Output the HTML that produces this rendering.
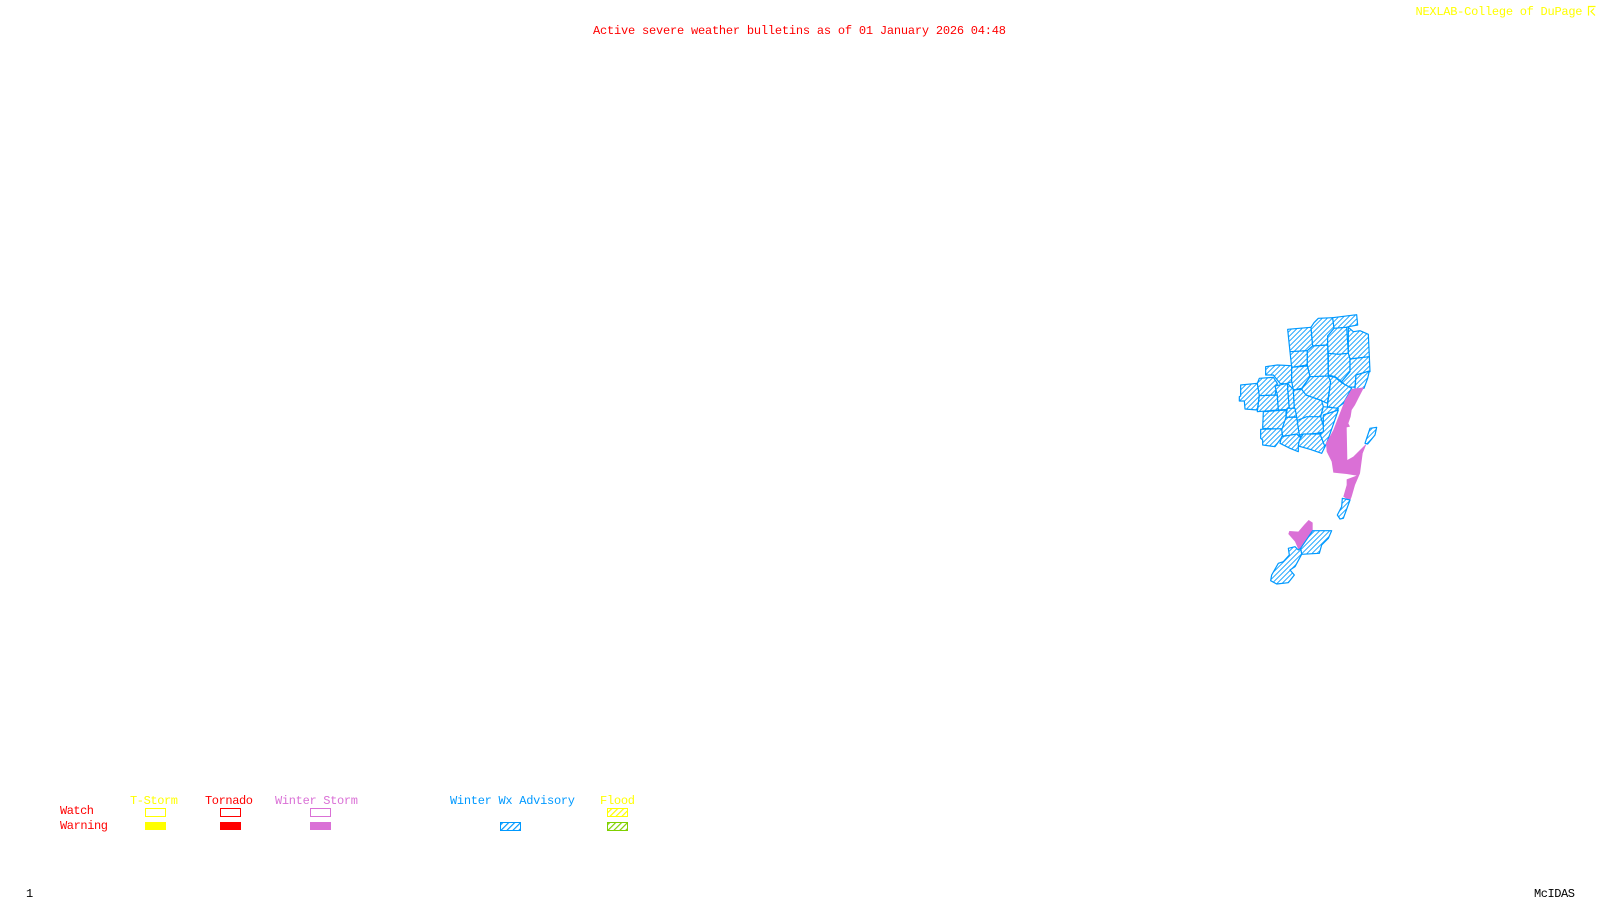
<!DOCTYPE html>
<html lang="en">
<head>
<meta charset="utf-8">
<title>Active severe weather bulletins</title>
<style>
html,body{margin:0;padding:0;background:#fff;width:1600px;height:900px;overflow:hidden}
svg{display:block}
text{font-family:"Liberation Mono",monospace;font-size:12px}
</style>
</head>
<body>
<svg width="1600" height="900" viewBox="0 0 1600 900" xmlns="http://www.w3.org/2000/svg">
<defs>
<pattern id="hz" patternUnits="userSpaceOnUse" width="10.6" height="10.6" patternTransform="rotate(45)">
<rect width="10.6" height="10.6" fill="#fff"/>
<rect x="0" y="0" width="2.6" height="10.6" fill="#0099ff"/>
</pattern>
<pattern id="hb" patternUnits="userSpaceOnUse" width="4.2" height="4.2" patternTransform="rotate(45)">
<rect width="4.2" height="4.2" fill="#fff"/><rect width="1.2" height="4.2" fill="#0099ff"/>
</pattern>
<pattern id="hy" patternUnits="userSpaceOnUse" width="4.2" height="4.2" patternTransform="rotate(45)">
<rect width="4.2" height="4.2" fill="#fff"/><rect width="1.2" height="4.2" fill="#ffff00"/>
</pattern>
<pattern id="hg" patternUnits="userSpaceOnUse" width="4.2" height="4.2" patternTransform="rotate(45)">
<rect width="4.2" height="4.2" fill="#fff"/><rect width="1.2" height="4.2" fill="#7fd000"/>
</pattern>
</defs>

<text x="593" y="34" fill="#ff0000" textLength="413" lengthAdjust="spacing">Active severe weather bulletins as of 01 January 2026 04:48</text>
<text x="1415.5" y="15" fill="#ffff00" textLength="167" lengthAdjust="spacing">NEXLAB-College of DuPage</text>
<path d="M1595.5 6.5H1588.5V15.5M1594 8.5L1591 11.5L1595 15.5" fill="none" stroke="#ffff00" stroke-width="1.2"/>

<g transform="translate(1200,300) scale(0.33333)">
<g fill="url(#hz)" stroke="#0099ff" stroke-width="3.6" stroke-linejoin="round">
<polygon points="263,88 333,82 338,138 322,152 270,155"/>
<polygon points="333,82 342,68 355,55 398,53 402,85 383,108 383,135 338,138"/>
<polygon points="398,53 470,44 473,75 445,80 440,82 402,85"/>
<polygon points="402,85 440,82 445,160 415,163 385,160 383,135 383,108"/>
<polygon points="445,82 460,95 480,92 505,103 508,170 450,177 445,160"/>
<polygon points="270,155 322,152 322,195 275,202"/>
<polygon points="322,152 338,138 383,135 385,230 330,230 322,195"/>
<polygon points="385,160 415,163 445,160 450,177 450,215 425,245 405,230 385,225"/>
<polygon points="450,177 508,170 510,215 468,225 465,262 440,260 425,245 450,215"/>
<polygon points="468,225 508,213 503,235 492,265 465,268"/>
<polygon points="197,200 232,195 275,197 275,245 258,252 240,250 220,225 197,225"/>
<polygon points="275,202 322,198 330,230 305,265 280,270 275,245"/>
<polygon points="330,230 385,228 392,245 382,310 355,298 315,285 305,268"/>
<polygon points="385,228 405,232 425,248 455,265 430,310 410,325 382,320 392,245"/>
<polygon points="122,255 172,250 178,285 172,330 135,327 133,303 118,303 118,290 122,288"/>
<polygon points="178,235 220,232 232,250 225,285 178,287 172,250"/>
<polygon points="178,287 232,285 235,330 172,335"/>
<polygon points="225,258 262,250 268,328 235,330 232,285"/>
<polygon points="262,250 280,268 283,325 268,328"/>
<polygon points="280,270 305,268 318,285 365,302 370,320 362,350 290,362 283,325"/>
<polygon points="190,335 258,330 258,352 250,388 188,385"/>
<polygon points="262,325 285,325 290,350 258,352"/>
<polygon points="370,320 415,325 395,355 375,395 362,350"/>
<polygon points="290,362 320,350 362,350 375,395 350,400 298,405"/>
<polygon points="258,352 290,352 298,405 248,408 245,390"/>
<polygon points="182,388 245,386 247,410 225,440 188,435 188,420 182,415"/>
<polygon points="245,410 290,402 310,420 295,438 295,455 270,445 240,430"/>
<polygon points="298,405 360,400 380,398 365,430 310,420"/>
<polygon points="298,420 310,402 360,402 375,440 365,460 330,448 295,438"/>
<polygon points="370,345 415,330 380,430 375,440 360,402 370,395"/>
</g>
<g transform="translate(90,330)">
<polygon fill="#da70d6" points="345,-30 365,-63 402,-68 385,-35 375,-15 365,0 362,20 355,40 360,50 350,52 352,150 370,140 410,100 398,130 390,190 375,225 365,260 360,273 340,260 350,225 350,208 380,197 350,192 310,188 305,155 290,125 288,100 310,60"/>
<polygon fill="#da70d6" points="236,330 248,338 248,362 212,415 205,418 195,395 175,372 178,363 205,365 222,345"/>
<g fill="url(#hz)" stroke="#0099ff" stroke-width="3.6" stroke-linejoin="round">
<polygon points="405,100 420,55 440,52 435,75 413,102"/>
<polygon points="337,265 360,270 340,325 330,327 322,315 335,290"/>
<polygon points="248,362 305,362 295,385 275,405 268,430 215,433 212,415"/>
<polygon points="212,415 215,433 195,470 180,480 193,495 175,518 140,522 122,512 125,495 145,460 160,455 178,435 175,415 195,410 205,420"/>
</g>
</g>
</g>

<text x="130" y="804" fill="#ffff00" textLength="48" lengthAdjust="spacing">T-Storm</text>
<text x="205" y="804" fill="#ff0000" textLength="48" lengthAdjust="spacing">Tornado</text>
<text x="275" y="804" fill="#da70d6" textLength="83" lengthAdjust="spacing">Winter Storm</text>
<text x="450" y="804" fill="#0099ff" textLength="125" lengthAdjust="spacing">Winter Wx Advisory</text>
<text x="600" y="804" fill="#ffff00" textLength="35" lengthAdjust="spacing">Flood</text>
<text x="60" y="814" fill="#ff0000" textLength="34" lengthAdjust="spacing">Watch</text>
<text x="60" y="829" fill="#ff0000" textLength="48" lengthAdjust="spacing">Warning</text>

<rect x="145.5" y="808.5" width="20" height="8" fill="#fff" stroke="#ffff00"/>
<rect x="145" y="822" width="21" height="8" fill="#ffff00"/>
<rect x="220.5" y="808.5" width="20" height="8" fill="#fff" stroke="#ff0000"/>
<rect x="220" y="822" width="21" height="8" fill="#ff0000"/>
<rect x="310.5" y="808.5" width="20" height="8" fill="#fff" stroke="#da70d6"/>
<rect x="310" y="822" width="21" height="8" fill="#da70d6"/>
<rect x="500.5" y="822.5" width="20" height="8" fill="url(#hb)" stroke="#0099ff"/>
<rect x="607.5" y="808.5" width="20" height="8" fill="url(#hy)" stroke="#ffff00"/>
<rect x="607.5" y="822.5" width="20" height="8" fill="url(#hg)" stroke="#7fd000"/>

<text x="26" y="897" fill="#000">1</text>
<text x="1534" y="897" fill="#000" textLength="41" lengthAdjust="spacing">McIDAS</text>
</svg>
</body>
</html>
